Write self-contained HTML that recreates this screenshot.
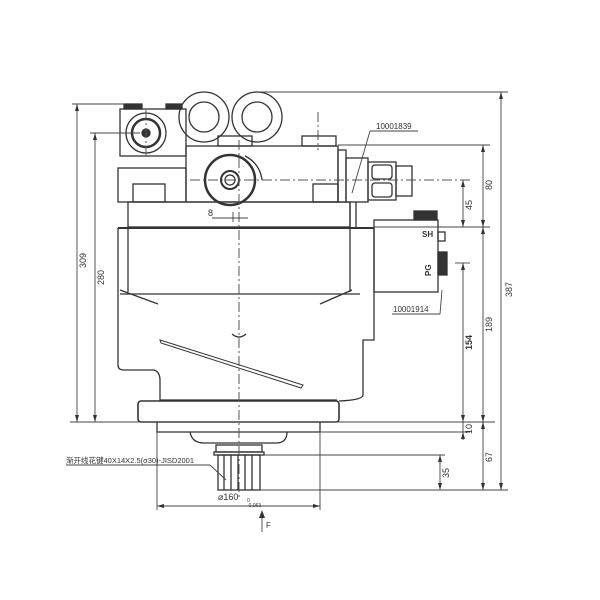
<!DOCTYPE html>
<html><head><meta charset="utf-8"><style>body{margin:0;background:#fff}svg{display:block}text{font-family:"Liberation Sans","Noto Sans CJK SC",sans-serif;fill:#333}</style></head><body>
<svg width="600" height="600" viewBox="0 0 600 600" xmlns="http://www.w3.org/2000/svg">
<g fill="none" stroke="#333" stroke-width="1.3">
<!-- top left block -->
<rect x="120" y="109" width="66" height="47"/>
<rect x="124" y="104" width="18" height="5" fill="#333"/>
<rect x="166" y="104" width="16" height="5" fill="#333"/>
<circle cx="146" cy="133" r="20"/><circle cx="146" cy="133" r="14" stroke-width="2.5"/><circle cx="146" cy="133" r="4" fill="#333"/>
<!-- eye rings -->
<circle cx="204" cy="117" r="25"/><circle cx="204" cy="117" r="15"/>
<circle cx="257" cy="117" r="25"/><circle cx="257" cy="117" r="15"/>
<rect x="218" y="136" width="34" height="10"/>
<rect x="302" y="136" width="34" height="10"/>
<!-- central block -->
<rect x="186" y="146" width="152" height="56"/>
<circle cx="230" cy="180" r="25" stroke-width="2.5"/><circle cx="230" cy="180" r="9" stroke-width="2"/><circle cx="230" cy="180" r="5"/>
<path d="M245 156 A30 30 0 0 1 262 180"/>
<rect x="118" y="168" width="68" height="34"/>
<rect x="133" y="184" width="32" height="18"/><rect x="313" y="184" width="25" height="18"/>
<!-- band -->
<rect x="128" y="202" width="222" height="25"/>
<line x1="118" y1="228" x2="374" y2="228" stroke-width="2"/>
<!-- body -->
<path d="M118 228 V365 Q118 370 124 370 H154 Q160 372 160 380 V401 M374 228 V340 H363 V395 Q363 400 339 401"/>
<path d="M128 228 V292 M350 228 V292 M120 294 H360" />
<line x1="120" y1="290" x2="158" y2="304"/><line x1="320" y1="304" x2="352" y2="290"/>
<path d="M232 334 Q239 340 246 334"/>
<path d="M160 340 L303 385 L301 388 L161 343 Z" stroke-width="1"/>
<path d="M160 400 H337" />
<!-- flange -->
<rect x="138" y="401" width="201" height="21" rx="3" stroke-width="1.6"/>
<path d="M157 422 V432 H320 V422"/>
<path d="M190 432 Q192 443 204 443 H276 Q287 443 287 432"/>
<rect x="216" y="445" width="46" height="7"/>
<rect x="214" y="452" width="50" height="3"/>
<rect x="218" y="455" width="42" height="35"/>
<path d="M224 455V490M231 455V490M238 455V490M245 455V490M252 455V490"/>
<!-- valve 10001839 -->
<rect x="338" y="150" width="8" height="52"/>
<rect x="346" y="158" width="22" height="44"/>
<rect x="368" y="162" width="28" height="38"/>
<rect x="372" y="165" width="20" height="14" rx="3"/><rect x="372" y="183" width="20" height="14" rx="3"/>
<rect x="396" y="166" width="16" height="30"/>
<path d="M350 202 V228 M356 202 V228"/>
<!-- SH/PG box -->
<rect x="374" y="220" width="64" height="72"/>
<rect x="414" y="211" width="23" height="9" fill="#333"/>
<rect x="438" y="232" width="7" height="9"/>
<rect x="438" y="252" width="9" height="23" fill="#333"/>
</g>
<!-- centre lines -->
<g stroke="#555" stroke-width="1" fill="none" stroke-dasharray="10 3 2 3">
<line x1="239" y1="140" x2="239" y2="500"/>
<line x1="190" y1="180" x2="470" y2="180"/>
<line x1="146" y1="110" x2="146" y2="158"/>
<line x1="318" y1="112" x2="318" y2="150"/>
</g>
<!-- dims -->
<g stroke="#444" stroke-width="0.9" fill="none">
<line x1="260" y1="92" x2="508" y2="92"/>
<line x1="72" y1="104" x2="125" y2="104"/><line x1="90" y1="133" x2="140" y2="133"/>
<line x1="77" y1="104" x2="77" y2="422"/><line x1="95" y1="133" x2="95" y2="422"/>
<line x1="70" y1="422" x2="495" y2="422"/>
<line x1="338" y1="145" x2="490" y2="145"/>
<line x1="374" y1="227" x2="490" y2="227"/>
<line x1="455" y1="263" x2="470" y2="263"/>
<line x1="320" y1="432" x2="470" y2="432"/>
<line x1="264" y1="455" x2="445" y2="455"/>
<line x1="260" y1="490" x2="508" y2="490"/>
<line x1="483" y1="145" x2="483" y2="490"/>
<line x1="463" y1="180" x2="463" y2="227"/>
<line x1="463" y1="263" x2="463" y2="440"/>
<line x1="501" y1="92" x2="501" y2="490"/>
<line x1="440" y1="455" x2="440" y2="490"/>
<line x1="157" y1="432" x2="157" y2="510"/><line x1="320" y1="432" x2="320" y2="510"/>
<line x1="157" y1="506" x2="320" y2="506"/>
<line x1="212" y1="218" x2="248" y2="218"/><line x1="233" y1="212" x2="233" y2="222"/>
<line x1="370" y1="131" x2="352" y2="193"/><line x1="370" y1="131" x2="418" y2="131"/>
<line x1="392" y1="314" x2="440" y2="314"/><line x1="440" y1="314" x2="442" y2="290"/>
<line x1="66" y1="465" x2="210" y2="465"/><line x1="210" y1="465" x2="226" y2="480"/>
<line x1="262" y1="512" x2="262" y2="532"/>
</g>
<g fill="#333">
<path d="M77 104l-2 7h4z M77 422l-2-7h4z M95 133l-2 7h4z M95 422l-2-7h4z M483 145l-2 7h4z M483 227l-2-7h4z M483 227l-2 7h4z M483 422l-2-7h4z M483 422l-2 7h4z M483 490l-2-7h4z M501 92l-2 7h4z M501 490l-2-7h4z M463 180l-2 7h4z M463 227l-2-7h4z M463 263l-2 7h4z M463 422l-2-7h4z M463 432l-2 7h4z M440 455l-2 7h4z M440 490l-2-7h4z M157 506l7-2v4z M320 506l-7-2v4z M262 510l-3 8h6z"/>
</g>
<g font-size="9">
<text transform="translate(86,268) rotate(-90)">309</text>
<text transform="translate(104,285) rotate(-90)">280</text>
<text transform="translate(512,297) rotate(-90)">387</text>
<text transform="translate(492,332) rotate(-90)">189</text>
<text transform="translate(492,190) rotate(-90)">80</text>
<text transform="translate(472,210) rotate(-90)">45</text>
<text transform="translate(472,350) rotate(-90)" font-weight="bold">154</text>
<text transform="translate(472,434) rotate(-90)">10</text>
<text transform="translate(492,462) rotate(-90)">67</text>
<text transform="translate(449,478) rotate(-90)">35</text>
<text x="208" y="216">8</text>
<text x="376" y="129" font-size="8">10001839</text>
<text x="393" y="312" font-size="8">10001914</text>
<text x="422" y="237" font-size="8" font-weight="bold">SH</text>
<text transform="translate(431,276) rotate(-90)" font-size="8" font-weight="bold">PG</text>
<text x="66" y="463" font-size="7.5">渐开线花键40X14X2.5(σ30)-JISD2001</text>
<text x="218" y="500" font-size="9">⌀160</text>
<text x="247" y="502" font-size="5">0</text><text x="247" y="507" font-size="5">-0.063</text>
<text x="266" y="528" font-size="8">F</text>
</g>
</svg>
</body></html>
